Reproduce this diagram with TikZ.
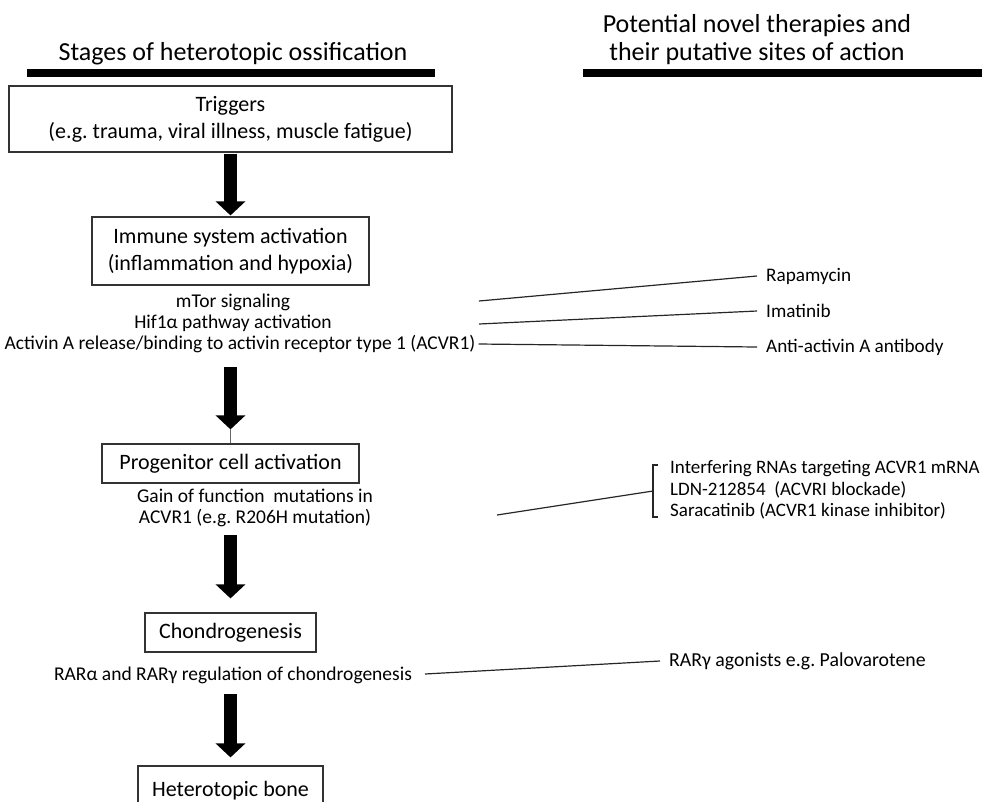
\documentclass[tikz,border=0pt]{standalone}
\usepackage{fontspec}
\setmainfont{Carlito}
\usetikzlibrary{arrows.meta}
\frenchspacing

\tikzset{
  headline/.style={inner sep=0pt, anchor=base, align=center, font=\fontsize{26}{28}\selectfont},
  headbar/.style={line width=8pt},
  stagebox/.style={draw=black!80, line width=1.2pt, inner sep=0pt, align=center,
    font=\fontsize{22}{27}\selectfont},
  cue/.style={inner sep=0pt, align=center, font=\fontsize{19.5}{21.5}\selectfont},
  drug/.style={inner xsep=9pt, inner ysep=0pt, anchor=west, font=\fontsize{19.2}{21.5}\selectfont},
  link/.style={line width=1.2pt, black!85},
  flow/.style={line width=13pt, -{Triangle[width=29pt,length=14pt]}}
}

\begin{document}
\begin{tikzpicture}[x=1pt,y=-1pt]
  \useasboundingbox (0,0) rectangle (982,801);
  \clip (0,0) rectangle (982,801);

  % column heads
  \node[headline] (stagehead) at (233,60) {Stages of heterotopic ossification};
  \node[headline] (drughead) at (757,60) {Potential novel therapies and\\their putative sites of action};
  \draw[headbar] (27,73) -- (435,73);
  \draw[headbar] (583,73) -- (982,73);

  % stages
  \node[stagebox, minimum width=443pt, minimum height=66pt] (trig) at (230.5,119)
    {Triggers\\(e.g. trauma, viral illness, muscle fatigue)};
  \node[stagebox, minimum width=277pt, minimum height=68pt] (immune) at (230.5,251)
    {Immune system activation\\(inflammation and hypoxia)};
  \node[stagebox, minimum width=257pt, minimum height=39pt] (prog) at (230.5,463.5)
    {Progenitor cell activation};
  \node[stagebox, minimum width=171pt, minimum height=39pt] (chondro) at (230.5,632.5)
    {Chondrogenesis};
  \node[stagebox, minimum width=185pt, minimum height=50pt] (bone) at (230.5,791)
    {Heterotopic bone};

  % mechanisms
  \node[cue] (mtor) at (233,302) {mTor signaling};
  \node[cue] (hif) at (233,323) {Hif1α pathway activation};
  \node[cue] (activin) at (240,344) {Activin A release/binding to activin receptor type 1 (ACVR1)};
  \node[cue] (gain) at (255,508) {Gain of function~ mutations in\\ACVR1 (e.g. R206H mutation)};
  \node[cue] (rar) at (233,675) {RARα and RARγ regulation of chondrogenesis};

  % therapies
  \node[drug] (rapa) at (757,276) {Rapamycin};
  \node[drug] (imat) at (757,311) {Imatinib};
  \node[drug] (antiact) at (757,347) {Anti-activin A antibody};
  \node[drug, inner xsep=0pt, align=left, font=\fontsize{19}{21.5}\selectfont] (rnas) at (670,490)
    {Interfering RNAs targeting ACVR1 mRNA\\LDN-212854~ (ACVRI blockade)\\Saracatinib (ACVR1 kinase inhibitor)};
  \node[drug, font=\fontsize{19.8}{21.5}\selectfont] (palo) at (660,661) {RARγ agonists e.g. Palovarotene};

  % bracket round the three agents
  \draw[link] (658,465) -- (653,465) -- (653,517) -- (658,517);
  \coordinate (brk) at (653,491);

  % sites of action
  \coordinate (mtorend) at (479,301);
  \coordinate (hifend) at (479,324);
  \coordinate (gainend) at (497,515);
  \coordinate (rarend) at (425,674);
  \draw[link] (mtorend) -- (rapa.west);
  \draw[link] (hifend) -- (imat.west);
  \draw[link] ([xshift=3pt]activin.east) -- (antiact.west);
  \draw[link] (gainend) -- (brk);
  \draw[link] (rarend) -- (palo.west);

  % stage arrows
  \coordinate (a2) at (230.5,367);
  \coordinate (a3) at (230.5,535);
  \coordinate (a4) at (230.5,694);
  \draw[flow] ([yshift=-1pt]trig.south) -- ([yshift=1pt]immune.north);
  \draw[flow] (a2) -- ([yshift=14pt]prog.north);
  \draw[line width=0.8pt, black!60] ([yshift=14pt]prog.north) -- (prog.north);
  \draw[flow] (a3) -- ([yshift=14pt]chondro.north);
  \draw[flow] (a4) -- ([yshift=8pt]bone.north);
\end{tikzpicture}
\end{document}
